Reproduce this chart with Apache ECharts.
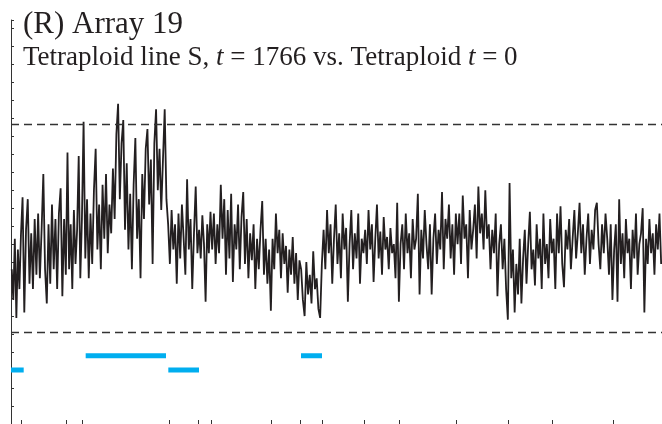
<!DOCTYPE html>
<html><head><meta charset="utf-8">
<script src="https://cdn.jsdelivr.net/npm/echarts@6/dist/echarts.min.js"></script>
<style>html,body{margin:0;padding:0;background:#fff}#c{width:662px;height:424px}</style>
</head><body><div id="c"></div>
<script>
// Chromosome end positions (kb, cumulative genome coordinate)
const chrEndKb = [199, 1035, 1333, 2937, 3481, 3723, 4846, 5377, 5794, 6567, 7225, 8284, 9251, 10069, 11195, 12100];
// Log-ratio values per chromosome (axis units, one tick = 1)
const chr01 = [8.6, 6.9, 10.3, 5.9, 9.7, 7.5, 10.5];
const chr02 = [12.6, 6.2, 10.8, 12.5, 7.8, 10.6, 7.5, 11.4, 8.3, 11.7, 8.1, 10.8, 13.9, 8.6, 6.7, 11.1, 7.8, 12.2, 8.6, 11.4, 7.5, 11.7, 13.1, 7.1, 11.4, 8.3];
const chr03 = [15.1, 8.6, 11.1, 7.5, 11.9, 8.9, 10.8, 14.9, 8.1, 11.4];
const chr04 = [16.8, 9.2, 12.5, 8.1, 11.7, 8.9, 13.0, 15.3, 9.7, 12.2, 8.6, 13.3, 10.3, 13.9, 9.5, 12.2, 10.6, 14.2, 11.4, 16.1, 17.8, 12.5, 15.6, 16.9, 10.8, 14.5, 9.7, 12.8, 8.6, 13.3, 15.9, 10.3, 12.5, 8.1, 13.9, 11.4, 15.3, 16.4, 12.2, 14.7, 8.9, 15.6, 17.5, 13.0, 15.3, 11.9, 14.7, 17.5, 12.5, 11.1];
const chr05 = [8.9, 11.9, 9.7, 11.1, 7.8, 11.7, 9.2, 12.2, 10.3, 8.3, 13.6, 9.7, 11.4, 7.5, 10.6, 13.2, 9.5];
const chr06 = [10.8, 9.2, 11.6, 10.0, 6.8, 11.1, 9.5, 11.8];
const chr07 = [9.7, 11.7, 8.9, 11.1, 9.5, 13.3, 10.3, 12.5, 8.3, 11.9, 9.2, 12.8, 7.9, 11.1, 9.7, 12.2, 8.6, 11.5, 12.9, 8.9, 11.4, 8.1, 10.6, 9.1, 11.1, 7.5, 10.3, 8.6, 10.8, 12.4, 8.3, 10.3, 7.8, 9.7, 6.3];
const chr08 = [10.3, 8.6, 11.7, 9.5, 10.8, 8.1, 10.6, 8.9, 9.9, 7.3, 9.7, 8.3, 10.4, 7.8, 9.5, 6.9, 9.1];
const chr09 = [8.6, 6.9, 6.0, 9.0, 7.2, 8.3, 6.7, 9.6, 7.5, 8.1, 6.4, 5.9, 8.9];
const chr10 = [10.8, 8.6, 11.9, 9.5, 11.1, 7.8, 10.3, 12.2, 8.9, 10.6, 8.1, 11.7, 9.7, 10.9, 6.8, 10.0, 11.9, 8.6, 10.6, 9.2, 11.7, 7.8, 10.3, 9.5];
const chr11 = [10.8, 8.9, 11.9, 9.7, 11.1, 7.9, 10.3, 12.2, 9.2, 10.7, 8.3, 11.5, 9.7, 10.4, 8.6, 10.9, 9.5, 10.0, 8.1, 12.3, 6.8];
const chr12 = [10.0, 11.1, 8.6, 11.7, 9.5, 10.6, 8.1, 11.4, 9.7, 10.3, 12.8, 7.2, 10.8, 9.2, 11.9, 10.0, 8.6, 11.1, 7.2, 10.3, 11.7, 8.9, 10.8, 9.7, 12.9, 8.6, 11.4, 10.3, 12.2, 9.2, 11.1, 8.3, 11.7];
const chr13 = [10.0, 11.7, 8.9, 12.7, 10.3, 11.1, 8.1, 11.9, 9.7, 10.8, 12.2, 9.2, 13.2, 10.6, 11.7, 9.7, 13.0, 10.3, 11.1, 8.6, 10.8, 9.5, 11.7, 7.1, 10.0, 11.1, 8.6, 10.3, 7.5, 5.8];
const chr14 = [13.4, 8.1, 9.7, 6.2, 8.9, 7.2, 10.3, 6.7, 9.2, 10.8, 7.8, 10.0, 11.8, 8.6, 9.7, 7.7, 11.1, 9.2, 10.3, 7.5, 11.7, 8.9, 10.0, 8.1, 11.4, 9.5];
const chr15 = [10.3, 7.5, 11.7, 9.5, 12.1, 8.9, 7.6, 10.8, 9.7, 11.4, 8.6, 10.3, 11.9, 9.2, 10.6, 12.3, 9.5, 11.1, 8.3, 10.3, 11.7, 8.9, 10.8, 9.7, 11.9, 12.3, 10.0, 8.6, 11.1, 9.5, 11.7, 10.3, 8.3, 11.1, 6.9];
const chr16 = [9.7, 11.1, 6.8, 12.5, 8.9, 10.6, 8.1, 11.4, 9.5, 10.3, 7.5, 10.8, 9.2, 11.7, 8.3, 10.0, 10.6, 12.0, 6.2, 10.3, 8.9, 11.4, 9.5, 10.6, 8.3, 11.1, 9.7, 11.7, 8.9];
// Threshold (dashed) levels
const thresholds = [16.65, 5.1];
// Called segments (kb start, kb end) and their levels
const upperSegLevel = 3.8;
const upperSegments = [[1388, 2881], [5390, 5781]];
const lowerSegLevel = 3.0;
const lowerSegments = [[0, 236], [2924, 3494]];

const chrValues = [chr01, chr02, chr03, chr04, chr05, chr06, chr07, chr08, chr09, chr10, chr11, chr12, chr13, chr14, chr15, chr16];
const linePts = [];
let start = 0;
chrValues.forEach((vals, ci) => {
  const end = chrEndKb[ci];
  const step = (end - start) / vals.length;
  vals.forEach((v, i) => linePts.push([start + (i + 0.5) * step, v]));
  start = end;
});
function segData(segs, lvl) {
  const d = [];
  segs.forEach(s => { d.push([s[0], lvl]); d.push([s[1], lvl]); d.push([null, null]); });
  return d;
}

const chart = echarts.init(document.getElementById('c'), null, {renderer: 'canvas'});
chart.setOption({
  animation: false,
  backgroundColor: '#ffffff',
  title: {
    text: '(R) Array 19',
    subtext: 'Tetraploid line S, {i|t} = 1766 vs. Tetraploid {i|t} = 0',
    left: 18, top: 4, itemGap: 4,
    textStyle: {fontFamily: 'Liberation Serif', fontSize: 31, fontWeight: 'normal', color: '#231f20'},
    subtextStyle: {fontFamily: 'Liberation Serif', fontSize: 27, color: '#231f20',
      rich: {i: {fontFamily: 'Liberation Serif', fontSize: 27, fontStyle: 'italic', color: '#231f20'}}}
  },
  grid: {left: 11, right: 0, top: 20, bottom: -1.4, containLabel: false},
  xAxis: {
    type: 'value', min: 0, max: 12100,
    axisLine: {show: false},
    axisTick: {show: true, inside: true, length: 4, customValues: chrEndKb.slice(0, 15), lineStyle: {color: '#333', width: 1}},
    axisLabel: {show: false},
    splitLine: {show: false}
  },
  yAxis: {
    type: 'value', min: 0, max: 22.46, interval: 1,
    axisLine: {show: true, lineStyle: {color: '#333', width: 1}},
    axisTick: {show: true, inside: true, length: 3, lineStyle: {color: '#333', width: 1}},
    axisLabel: {show: false},
    splitLine: {show: false}
  },
  series: [
    {
      type: 'line', data: linePts, symbol: 'none', sampling: 'none',
      lineStyle: {color: '#231f20', width: 1.8, join: 'miter', miterLimit: 3},
      markLine: {
        silent: true, symbol: 'none', label: {show: false},
        lineStyle: {color: '#333', width: 1.3, type: [8, 5]},
        data: thresholds.map(t => ({yAxis: t}))
      },
      z: 2
    },
    {
      type: 'line', data: segData(upperSegments, upperSegLevel), symbol: 'none', connectNulls: false,
      lineStyle: {color: '#00aeef', width: 5, cap: 'butt'}, z: 3
    },
    {
      type: 'line', data: segData(lowerSegments, lowerSegLevel), symbol: 'none', connectNulls: false,
      lineStyle: {color: '#00aeef', width: 5, cap: 'butt'}, z: 3
    }
  ]
});
</script></body></html>
